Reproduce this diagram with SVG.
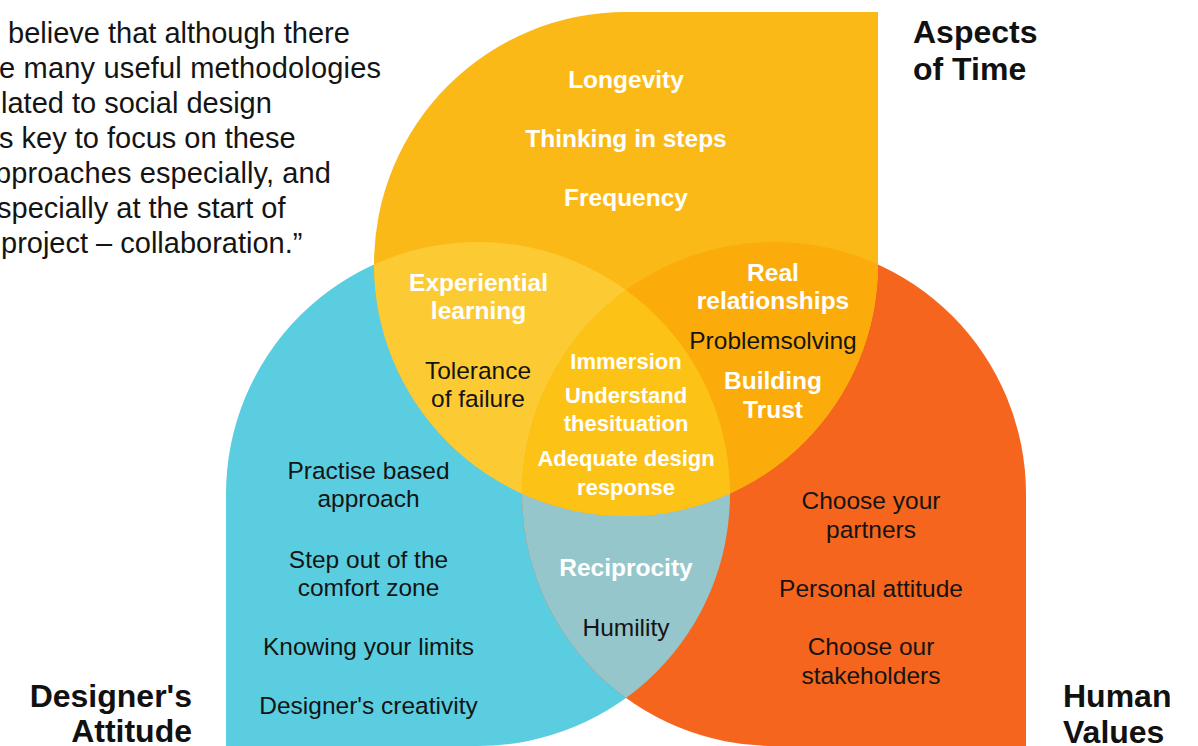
<svg xmlns="http://www.w3.org/2000/svg" xmlns:xlink="http://www.w3.org/1999/xlink" width="1198" height="746" viewBox="0 0 1198 746">
  <style>
    .quote { font-family: "Liberation Sans", Arial, sans-serif; font-size: 29px; fill: #141414; }
    .title { font-family: "Liberation Sans", Arial, sans-serif; font-size: 32px; font-weight: bold; fill: #111; }
    .lbl { font-family: "Liberation Sans", Arial, sans-serif; font-size: 24.5px; text-anchor: middle; }
    .sm { font-size: 22px; }
    .w { fill: #ffffff; font-weight: bold; }
    .k { fill: #141414; }
  </style>
  <defs>
    <!-- each set is a circle (r=252) with one square corner -->
    <path id="shapeTime" d="M374,264 A252,252 0 0 1 626,12 L878,12 L878,264 A252,252 0 0 1 626,516 A252,252 0 0 1 374,264 Z"/>
    <path id="shapeAttitude" d="M226,746 L226,494 A252,252 0 0 1 478,242 A252,252 0 0 1 730,494 A252,252 0 0 1 478,746 Z"/>
    <path id="shapeValues" d="M774,746 A252,252 0 0 1 522,494 A252,252 0 0 1 774,242 A252,252 0 0 1 1026,494 L1026,746 Z"/>
    <clipPath id="clipTime"><use xlink:href="#shapeTime"/></clipPath>
    <clipPath id="clipAttitude"><use xlink:href="#shapeAttitude"/></clipPath>
  </defs>

  <rect width="1198" height="746" fill="#ffffff"/>

  <!-- quotation, left margin -->
  <g id="quote">
    <text class="quote" x="8" y="43">believe that although there</text>
    <text class="quote" x="-1" y="78" textLength="382" lengthAdjust="spacing">e many useful methodologies</text>
    <text class="quote" x="1" y="113">lated to social design</text>
    <text class="quote" x="-1" y="148">s key to focus on these</text>
    <text class="quote" x="-5" y="183" textLength="336" lengthAdjust="spacing">pproaches especially, and</text>
    <text class="quote" x="-3" y="218">specially at the start of</text>
    <text class="quote" x="1" y="252.5">project – collaboration.”</text>
  </g>

  <!-- set shapes -->
  <g id="set-attitude">
    <use xlink:href="#shapeAttitude" fill="#5ACEE0"/>
  </g>
  <g id="set-values">
    <use xlink:href="#shapeValues" fill="#F5651E"/>
  </g>
  <g id="overlap-attitude-values">
    <use xlink:href="#shapeValues" fill="#94C6CB" clip-path="url(#clipAttitude)"/>
  </g>
  <g id="set-time">
    <use xlink:href="#shapeTime" fill="#FBB917"/>
  </g>
  <g id="overlap-time-attitude">
    <use xlink:href="#shapeAttitude" fill="#FCCB34" clip-path="url(#clipTime)"/>
  </g>
  <g id="overlap-time-values">
    <use xlink:href="#shapeValues" fill="#FBAC0B" clip-path="url(#clipTime)"/>
  </g>
  <g id="overlap-all" clip-path="url(#clipTime)">
    <use xlink:href="#shapeValues" fill="#FCC316" clip-path="url(#clipAttitude)"/>
  </g>

  <!-- set titles -->
  <g id="title-time">
    <text class="title" x="913" y="43">Aspects</text>
    <text class="title" x="913" y="80">of Time</text>
  </g>
  <g id="title-attitude">
    <text class="title" x="192" y="707" text-anchor="end">Designer's</text>
    <text class="title" x="192" y="742" text-anchor="end">Attitude</text>
  </g>
  <g id="title-values">
    <text class="title" x="1063" y="707">Human</text>
    <text class="title" x="1063" y="743">Values</text>
  </g>

  <!-- labels: time only -->
  <g id="labels-time">
    <text class="lbl w" x="626" y="88">Longevity</text>
    <text class="lbl w" x="626" y="146.5">Thinking in steps</text>
    <text class="lbl w" x="626" y="206">Frequency</text>
  </g>
  <!-- labels: time and attitude -->
  <g id="labels-time-attitude">
    <text class="lbl w" x="478.5" y="290.5">Experiential</text>
    <text class="lbl w" x="478.5" y="319">learning</text>
    <text class="lbl k" x="478" y="378.5">Tolerance</text>
    <text class="lbl k" x="478" y="406.5">of failure</text>
  </g>
  <!-- labels: time and values -->
  <g id="labels-time-values">
    <text class="lbl w" x="773" y="281">Real</text>
    <text class="lbl w" x="773" y="309">relationships</text>
    <text class="lbl k" x="773" y="348.5">Problemsolving</text>
    <text class="lbl w" x="773" y="388.5">Building</text>
    <text class="lbl w" x="773" y="418">Trust</text>
  </g>
  <!-- labels: centre -->
  <g id="labels-all">
    <text class="lbl sm w" x="626" y="368.5">Immersion</text>
    <text class="lbl sm w" x="626" y="403">Understand</text>
    <text class="lbl sm w" x="626" y="431">thesituation</text>
    <text class="lbl sm w" x="626" y="466">Adequate design</text>
    <text class="lbl sm w" x="626" y="494.5">response</text>
  </g>
  <!-- labels: attitude only -->
  <g id="labels-attitude">
    <text class="lbl k" x="368.5" y="479">Practise based</text>
    <text class="lbl k" x="368.5" y="507">approach</text>
    <text class="lbl k" x="368.5" y="567.5">Step out of the</text>
    <text class="lbl k" x="368.5" y="596">comfort zone</text>
    <text class="lbl k" x="368.5" y="655">Knowing your limits</text>
    <text class="lbl k" x="368.5" y="713.5">Designer's creativity</text>
  </g>
  <!-- labels: attitude and values -->
  <g id="labels-attitude-values">
    <text class="lbl w" x="626" y="576">Reciprocity</text>
    <text class="lbl k" x="626" y="636">Humility</text>
  </g>
  <!-- labels: values only -->
  <g id="labels-values">
    <text class="lbl k" x="871" y="508.5">Choose your</text>
    <text class="lbl k" x="871" y="537.5">partners</text>
    <text class="lbl k" x="871" y="597">Personal attitude</text>
    <text class="lbl k" x="871" y="655">Choose our</text>
    <text class="lbl k" x="871" y="683.5">stakeholders</text>
  </g>
</svg>
